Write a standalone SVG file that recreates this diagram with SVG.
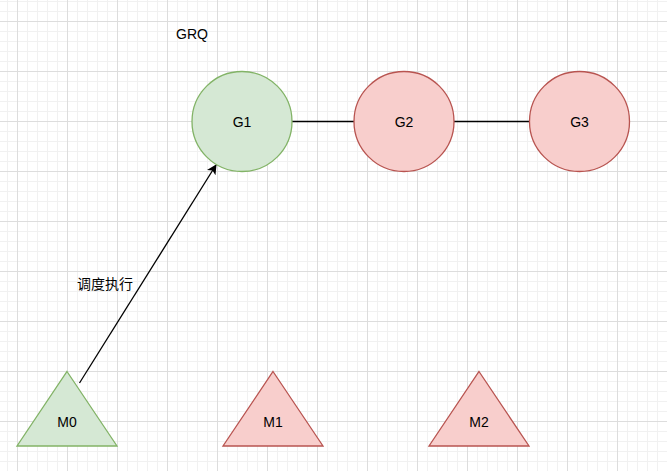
<svg xmlns="http://www.w3.org/2000/svg" width="667" height="471" viewBox="0 0 667 471">
<style>
.lbl{font-family:"Liberation Sans",Arial,sans-serif;font-size:14px;fill:#000;text-anchor:middle;dominant-baseline:central}
.cjk{font-family:"Liberation Sans","Noto Sans CJK SC",sans-serif;font-size:14px;fill:#000;text-anchor:middle;dominant-baseline:central}
.green{fill:#d5e8d4;stroke:#82b366;stroke-width:1.3}
.red{fill:#f8cecc;stroke:#b85450;stroke-width:1.3}
.edge{stroke:#000;stroke-width:1.3;fill:none}
</style>
<defs>
<pattern id="grid" x="17" y="21" width="50" height="50" patternUnits="userSpaceOnUse">
<path d="M10.5 0V50M20.5 0V50M30.5 0V50M40.5 0V50M0 10.5H50M0 20.5H50M0 30.5H50M0 40.5H50" stroke="#f1f1f1" stroke-width="1" fill="none"/>
<path d="M0.5 0V50M0 0.5H50" stroke="#dddddd" stroke-width="1" fill="none"/>
</pattern>
<marker id="arrow" viewBox="0 0 10 10" refX="9" refY="5" markerWidth="10" markerHeight="10" markerUnits="userSpaceOnUse" orient="auto">
<path d="M0 0L10 5L0 10L2.5 5Z" fill="#000"/>
</marker>
</defs>
<rect width="667" height="471" fill="#fff"/>
<rect width="667" height="471" fill="url(#grid)"/>
<text class="lbl" x="192" y="33.5">GRQ</text>
<g id="connectors">
<line class="edge" x1="292" y1="121.5" x2="354" y2="121.5"/>
<line class="edge" x1="454" y1="121.5" x2="529" y2="121.5"/>
<line class="edge" x1="79.5" y1="383" x2="216" y2="165" marker-end="url(#arrow)"/>
<text class="cjk" x="105" y="284">调度执行</text>
</g>
<g id="G1"><circle class="green" cx="242" cy="121.5" r="50"/><text class="lbl" x="242" y="121.5">G1</text></g>
<g id="G2"><circle class="red" cx="404" cy="121.5" r="50"/><text class="lbl" x="404" y="121.5">G2</text></g>
<g id="G3"><circle class="red" cx="579.5" cy="121.5" r="50"/><text class="lbl" x="579.5" y="121.5">G3</text></g>
<g id="M0"><path class="green" d="M67 371.5L117 446H17Z"/><text class="lbl" x="67" y="421.5">M0</text></g>
<g id="M1"><path class="red" d="M273 371.5L323 446H223Z"/><text class="lbl" x="273" y="421.5">M1</text></g>
<g id="M2"><path class="red" d="M479 371.5L529 446H429Z"/><text class="lbl" x="479" y="421.5">M2</text></g>
</svg>
